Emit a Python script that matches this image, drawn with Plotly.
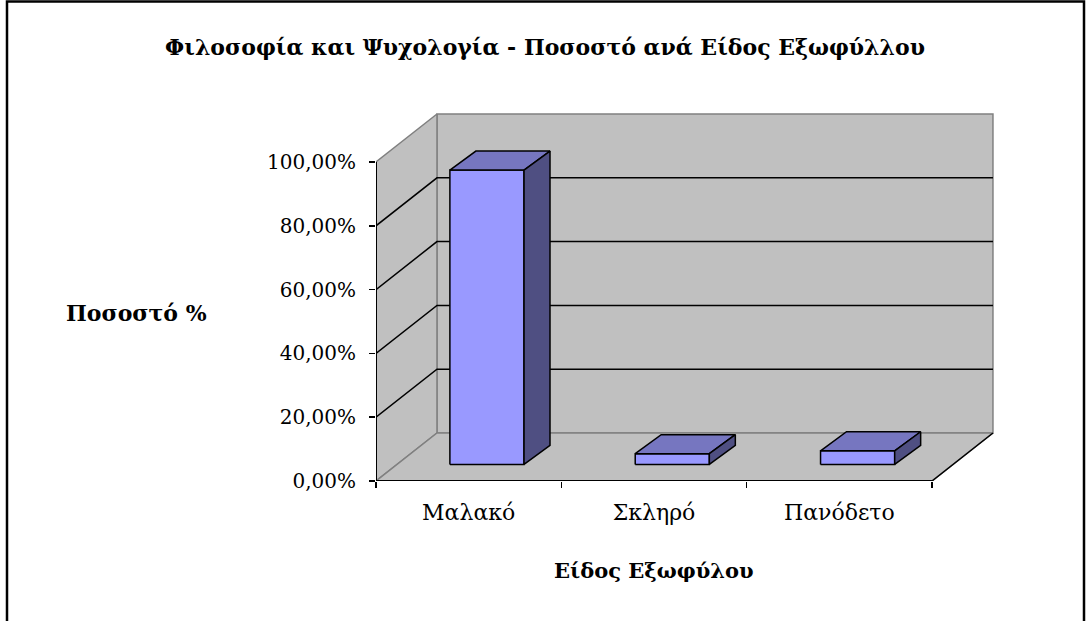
import plotly.graph_objects as go

# ---- data ----
categories = ["Μαλακό", "Σκληρό", "Πανόδετο"]
values = [92.3, 3.4, 4.3]
y_ticks = [0, 20, 40, 60, 80, 100]
y_labels = [f"{v:.2f}".replace(".", ",") + "%" for v in y_ticks]
title_text = "Φιλοσοφία και Ψυχολογία - Ποσοστό ανά Είδος Εξωφύλλου"
y_title = "Ποσοστό %"
x_title = "Είδος Εξωφύλου"

# ---- pseudo-3D geometry (data units) ----
DX, DY = 0.329, 15.05          # wall depth offset
F1X, F1Y = 0.30, 0.344         # bar front plane (fraction of depth)
F2X, F2Y = 0.726, 0.74         # bar back plane
HW = 0.2                       # half bar width (category units)
N = len(categories)

WALL = "#C0C0C0"
EDGE = "#808080"
FRONT = "#9999FF"
TOP = "#7676C0"
SIDE = "#4F4F82"
FONT = "DejaVu Serif"

fig = go.Figure()


def poly(xs, ys, fill, line_color, lw):
    fig.add_trace(go.Scatter(x=xs + [xs[0]], y=ys + [ys[0]], mode="lines",
                             fill="toself", fillcolor=fill,
                             line=dict(color=line_color, width=lw),
                             hoverinfo="skip", showlegend=False))


def line(xs, ys, color, lw):
    fig.add_trace(go.Scatter(x=xs, y=ys, mode="lines",
                             line=dict(color=color, width=lw),
                             hoverinfo="skip", showlegend=False))


top = y_ticks[-1]
# walls
poly([DX, N + DX, N + DX, DX], [DY, DY, DY + top, DY + top], WALL, EDGE, 1.5)
poly([0, DX, DX, 0], [0, DY, DY + top, top], WALL, EDGE, 1.5)
poly([0, N, N + DX, DX], [0, 0, DY, DY], WALL, EDGE, 1.5)
line([N, N + DX], [0, DY], "black", 1.5)

# gridlines
for g in y_ticks[1:-1]:
    line([0, DX, N + DX], [g, DY + g, DY + g], "black", 1.5)

# axis lines
line([0, 0], [0, top], "black", 2)
line([0, N], [0, 0], "black", 2)

# bars
bx = (F2X - F1X) * DX
by = (F2Y - F1Y) * DY
for i, v in enumerate(values):
    xc = i + 0.5
    x0 = xc - HW + F1X * DX
    x1 = xc + HW + F1X * DX
    yb = F1Y * DY
    yt = yb + v
    poly([x0, x1, x1, x0], [yb, yb, yt, yt], FRONT, "black", 1.5)
    poly([x0, x1, x1 + bx, x0 + bx], [yt, yt, yt + by, yt + by], TOP, "black", 1.5)
    poly([x1, x1 + bx, x1 + bx, x1], [yb, yb + by, yt + by, yt], SIDE, "black", 1.5)

# body margin is removed by post_script, so screen pixels == figure pixels
W, H = 1089, 621
L = 376
T = 100
PLOT_BOTTOM = 481
B = H - PLOT_BOTTOM
R = W - 1000
pw, ph = W - L - R, H - T - B


def px_x(p):
    return (p - L) / pw


def px_y(p):
    return (PLOT_BOTTOM - p) / ph


fig.update_layout(
    width=W, height=H,
    margin=dict(l=L, r=R, t=T, b=B),
    paper_bgcolor="white", plot_bgcolor="white",
    showlegend=False,
    hovermode=False,
    font=dict(family=FONT, color="black", size=20),
    title=dict(text="<b>" + title_text + "</b>", x=545 / W,
               y=1 - 47 / H,
               xanchor="center", yanchor="middle",
               font=dict(family=FONT, size=22, color="black")),
    xaxis=dict(range=[0, pw / 185.33], showgrid=False, zeroline=False,
               showline=False, tickmode="array",
               tickvals=[i + 0.5 for i in range(N)], ticktext=categories,
               ticks="", ticklabelstandoff=16,
               tickfont=dict(family=FONT, size=22),
               minor=dict(tickmode="array", tickvals=list(range(N + 1)),
                          ticks="outside", ticklen=6, tickwidth=1.5,
                          tickcolor="black", showgrid=False)),
    yaxis=dict(range=[0, ph / 3.19], showgrid=False, zeroline=False,
               showline=False, tickmode="array", tickvals=y_ticks,
               ticktext=y_labels,
               ticks="outside", ticklen=6, tickwidth=1.5, tickcolor="black",
               ticklabelstandoff=9,
               tickfont=dict(family=FONT, size=20)),
    annotations=[
        dict(text="<b>" + y_title + "</b>", xref="paper", yref="paper",
             x=px_x(136), y=px_y(313), xanchor="center", yanchor="middle",
             showarrow=False, font=dict(family=FONT, size=22)),
        dict(text="<b>" + x_title + "</b>", xref="paper", yref="paper",
             x=px_x(654), y=px_y(570), xanchor="center", yanchor="middle",
             showarrow=False, font=dict(family=FONT, size=21)),
    ],
    shapes=[dict(type="rect", xref="paper", yref="paper",
                 x0=px_x(7), x1=px_x(1084), y0=px_y(640), y1=px_y(1.5),
                 line=dict(color="black", width=2.5), fillcolor="rgba(0,0,0,0)",
                 layer="above")],
)

fig.write_html("out.html",
               config={"displayModeBar": False, "staticPlot": True},
               post_script="document.body.style.margin='0';"
                           "document.body.style.overflow='hidden';")
